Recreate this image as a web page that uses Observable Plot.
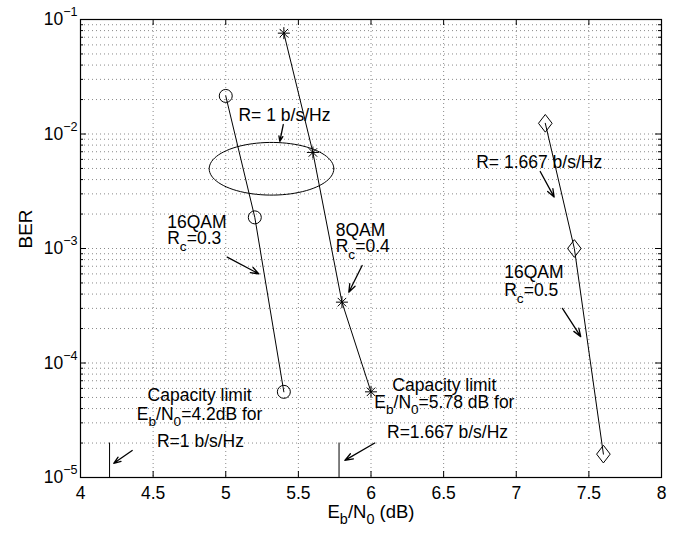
<!DOCTYPE html>
<html><head><meta charset="utf-8">
<script src="https://cdn.jsdelivr.net/npm/d3@7"></script>
<script src="https://cdn.jsdelivr.net/npm/@observablehq/plot@0.6"></script>
<style>body{margin:0;background:#fff}</style>
</head><body><div id="chart"></div>
<script>
// ---- data ----
const ebn0_16qam_03 = [5.0, 5.2, 5.4];
const ber_16qam_03 = [2.15e-2, 1.87e-3, 5.6e-5];
const ebn0_8qam_04 = [5.4, 5.6, 5.8, 6.0];
const ber_8qam_04 = [7.6e-2, 6.9e-3, 3.4e-4, 5.6e-5];
const ebn0_16qam_05 = [7.2, 7.4, 7.6];
const ber_16qam_05 = [1.24e-2, 1.0e-3, 1.6e-5];
const capacityLimitEbN0 = [4.2, 5.78];
const capacityMarkTop = 2e-5;

// ticks
const xTicks = [4, 4.5, 5, 5.5, 6, 6.5, 7, 7.5, 8];
const xTickLabels = ["4", "4.5", "5", "5.5", "6", "6.5", "7", "7.5", "8"];
const yDecades = [1e-5, 1e-4, 1e-3, 1e-2, 1e-1];
const yTickLabels = ["10^{−5}", "10^{−4}", "10^{−3}", "10^{−2}", "10^{−1}"];
const minorMultipliers = [2, 3, 4, 5, 6, 7, 8, 9];

// ellipse annotation (center, half-width in dB, half-height in decades)
const ellipseCenter = {x: 5.315, y: 4.97e-3};
const ellipseHalfWidth = 0.429;
const ellipseHalfDecades = 0.23;

// annotation texts (x, y = top of first line)
const noteText = ["R= 1 b/s/Hz", "16QAM\nR_{c}=0.3", "8QAM\nR_{c}=0.4",
  "R= 1.667 b/s/Hz", "16QAM\nR_{c}=0.5",
  "Capacity limit\nE_{b}/N_{0}=4.2dB for", "R=1 b/s/Hz",
  "Capacity limit\nE_{b}/N_{0}=5.78 dB for", "R=1.667 b/s/Hz"];
const noteX = [5.404, 4.597, 5.757, 7.158, 6.917, 4.82, 4.826, 6.505, 6.527];
const noteY = [1.67e-2, 1.9e-3, 1.63e-3, 6.49e-3, 7.11e-4, 6.15e-5, 2.36e-5, 7.13e-5, 2.83e-5];
const noteAnchor = ["middle", "start", "start", "middle", "start", "middle", "middle", "middle", "middle"];
const noteLineHeight = [1, 0.93, 0.93, 1, 1.03, 1.09, 1, 0.93, 1];

// arrows
const arrowX1 = [5.396, 5.010, 5.939, 7.165, 7.318, 4.356, 6.026];
const arrowY1 = [1.21e-2, 8.4e-4, 7.1e-4, 4.7e-3, 3.0e-4, 1.72e-5, 2.0e-5];
const arrowX2 = [5.372, 5.228, 5.847, 7.261, 7.444, 4.229, 5.820];
const arrowY2 = [8.6e-3, 6.0e-4, 4.15e-4, 2.81e-3, 1.7e-4, 1.33e-5, 1.41e-5];

// ---- build tables ----
const zipXY = (xs, ys) => xs.map((x, i) => ({x, y: ys[i]}));
const s1 = zipXY(ebn0_16qam_03, ber_16qam_03);
const s2 = zipXY(ebn0_8qam_04, ber_8qam_04);
const s3 = zipXY(ebn0_16qam_05, ber_16qam_05);
const notes = noteText.map((t, i) => ({text: t, x: noteX[i], y: noteY[i], anchor: noteAnchor[i], lh: noteLineHeight[i]}));
const arrows = arrowX1.map((x1, i) => ({x1, y1: arrowY1[i], x2: arrowX2[i], y2: arrowY2[i]}));
const yMinor = yDecades.slice(0, -1).flatMap(d => minorMultipliers.map(m => m * d));
const yGrid = yDecades.slice(1, -1).concat(yMinor);
const ellipse = d3.range(0, 361, 4).map(a => {
  const t = a * Math.PI / 180;
  return {x: ellipseCenter.x + ellipseHalfWidth * Math.cos(t),
          y: Math.pow(10, Math.log10(ellipseCenter.y) + ellipseHalfDecades * Math.sin(t))};
});

// symbols
const asterisk = {draw(ctx, size) {
  const r = Math.sqrt(size / Math.PI), d = r * Math.SQRT1_2;
  ctx.moveTo(0, -r); ctx.lineTo(0, r);
  ctx.moveTo(-r, 0); ctx.lineTo(r, 0);
  ctx.moveTo(-d, -d); ctx.lineTo(d, d);
  ctx.moveTo(-d, d); ctx.lineTo(d, -d);
}};
const diamond = {draw(ctx, size) {
  const r = Math.sqrt(size / Math.PI);
  ctx.moveTo(0, -1.3 * r); ctx.lineTo(r, 0); ctx.lineTo(0, 1.3 * r); ctx.lineTo(-r, 0); ctx.closePath();
}};

const W = 677, H = 536, mL = 80, mR = 16, mT = 19, mB = 59;
const frameW = W - mL - mR, frameH = H - mT - mB;
const grid = {stroke: "#8a8a8a", strokeDasharray: "1,3", strokeWidth: 1};

const svg = Plot.plot({
  width: W, height: H,
  marginLeft: mL, marginRight: mR, marginTop: mT, marginBottom: mB,
  style: {fontFamily: "'Liberation Sans', Arial, Helvetica, sans-serif", fontSize: "17.5px", background: "white", color: "black"},
  x: {domain: [4, 8]},
  y: {type: "log", domain: [1e-5, 1e-1]},
  marks: [
    Plot.ruleX(xTicks.slice(1, -1), grid),
    Plot.ruleY(yGrid, grid),
    // inward ticks
    Plot.tickX(xTicks, {x: d => d, insetTop: frameH - 6, stroke: "black"}),
    Plot.tickX(xTicks, {x: d => d, insetBottom: frameH - 6, stroke: "black"}),
    Plot.tickY(yDecades, {y: d => d, insetRight: frameW - 6, stroke: "black"}),
    Plot.tickY(yDecades, {y: d => d, insetLeft: frameW - 6, stroke: "black"}),
    Plot.tickY(yMinor, {y: d => d, insetRight: frameW - 3, stroke: "black"}),
    Plot.tickY(yMinor, {y: d => d, insetLeft: frameW - 3, stroke: "black"}),
    Plot.frame({stroke: "black", strokeWidth: 1.2}),
    Plot.axisX({ticks: xTicks, tickSize: 0, tickPadding: 9, tickFormat: d => xTickLabels[xTicks.indexOf(d)], label: null}),
    Plot.axisY({ticks: yDecades, tickSize: 0, tickPadding: 3, tickFormat: d => yTickLabels[yDecades.indexOf(d)], label: null}),
    // capacity limit marks
    Plot.ruleX(capacityLimitEbN0, {x: d => d, y1: 1e-5, y2: capacityMarkTop, stroke: "black"}),
    // series
    Plot.line(s1, {x: "x", y: "y", stroke: "black", strokeWidth: 1}),
    Plot.line(s2, {x: "x", y: "y", stroke: "black", strokeWidth: 1}),
    Plot.line(s3, {x: "x", y: "y", stroke: "black", strokeWidth: 1}),
    Plot.dot(s1, {x: "x", y: "y", r: 6.5, symbol: "circle", fill: "none", stroke: "black", strokeWidth: 1}),
    Plot.dot(s2, {x: "x", y: "y", r: 6, symbol: asterisk, fill: "none", stroke: "black", strokeWidth: 1}),
    Plot.dot(s3, {x: "x", y: "y", r: 6.8, symbol: diamond, fill: "none", stroke: "black", strokeWidth: 1}),
    // ellipse
    Plot.line(ellipse, {x: "x", y: "y", stroke: "black", strokeWidth: 1}),
    // arrows
    Plot.arrow(arrows, {x1: "x1", y1: "y1", x2: "x2", y2: "y2", stroke: "black", strokeWidth: 1.3, headLength: 10, headAngle: 40}),
    // notes
    ...notes.map(n => Plot.text([n], {x: "x", y: "y", text: "text", textAnchor: n.anchor, lineAnchor: "top", lineHeight: n.lh, fill: "black"})),
    // axis titles
    Plot.text(["E_{b}/N_{0} (dB)"], {frameAnchor: "bottom", dy: 40, fontSize: 18.5, fill: "black"}),
    Plot.text(["BER"], {frameAnchor: "left", dx: -55, rotate: -90, fontSize: 19, fill: "black"})
  ]
});

// rich text: _{..} subscript, ^{..} superscript
function richLeaf(el) {
  const s = el.textContent;
  if (!/[_^]\{/.test(s)) return;
  const parts = [], re = /([_^])\{([^}]*)\}/g;
  let last = 0, m;
  while ((m = re.exec(s))) {
    if (m.index > last) parts.push({t: s.slice(last, m.index), k: ""});
    parts.push({t: m[2], k: m[1]});
    last = re.lastIndex;
  }
  if (last < s.length) parts.push({t: s.slice(last), k: ""});
  while (el.firstChild) el.removeChild(el.firstChild);
  let shift = 0;
  for (const p of parts) {
    const ts = document.createElementNS("http://www.w3.org/2000/svg", "tspan");
    const want = p.k === "_" ? 6.5 : p.k === "^" ? -9 : 0;
    if (want - shift !== 0) ts.setAttribute("dy", want - shift);
    shift = want;
    if (p.k) ts.setAttribute("font-size", p.k === "_" ? "0.78em" : "0.72em");
    ts.textContent = p.t;
    el.appendChild(ts);
  }
}
function richText(root) {
  d3.select(root).selectAll("text").each(function() {
    const spans = Array.from(this.children).filter(c => c.tagName === "tspan");
    if (spans.length) spans.forEach(richLeaf); else richLeaf(this);
  });
}
richText(svg);
document.getElementById("chart").appendChild(svg);
</script>
</body></html>
